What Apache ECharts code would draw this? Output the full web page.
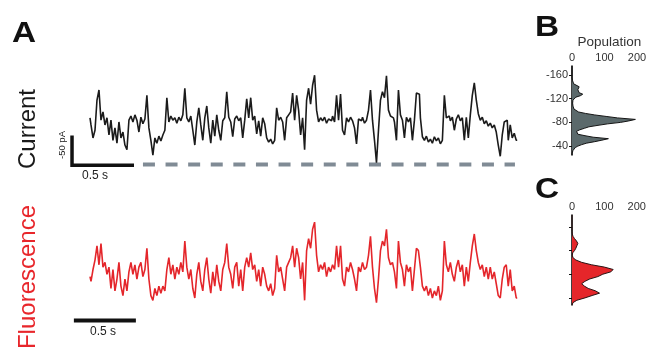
<!DOCTYPE html>
<html>
<head>
<meta charset="utf-8">
<title>Current and fluorescence traces</title>
<script src="https://cdn.jsdelivr.net/npm/echarts@6/dist/echarts.min.js"></script>
<style>
  html, body { margin: 0; padding: 0; background: #fff; }
  #chart { width: 653px; height: 349px; }
</style>
</head>
<body>
<div id="chart"></div>
<script>
// sample interval of both traces, seconds
const DT = 0.0161;

// current trace, pA
const currentPA = [
  -86, -74, -52, -65, -116, -133, -82, -96, -74, -86,
  -57, -82, -48, -69, -43, -79, -52, -62, -40, -32,
  -82, -89, -79, -91, -82, -62, -87, -76, -84, -124,
  -69, -48, -23, -52, -43, -55, -47, -57, -65, -120,
  -79, -89, -82, -86, -77, -87, -81, -91, -136, -86,
  -79, -89, -65, -40, -79, -103, -74, -48, -86, -106,
  -69, -43, -82, -55, -91, -65, -48, -81, -86, -130,
  -87, -79, -54, -84, -89, -81, -86, -52, -82, -118,
  -86, -120, -82, -89, -59, -81, -55, -86, -76, -52,
  -45, -50, -42, -48, -103, -82, -87, -79, -48, -86,
  -91, -96, -128, -82, -124, -99, -57, -86, -32, -116,
  -136, -109, -141, -158, -99, -79, -86, -81, -87, -77,
  -84, -81, -89, -79, -124, -82, -126, -65, -57, -86,
  -79, -87, -81, -69, -42, -84, -81, -87, -77, -82,
  -99, -133, -82, -48, -10, -65, -116, -130, -120, -157,
  -99, -89, -86, -79, -48, -133, -91, -82, -52, -87,
  -79, -86, -48, -82, -128, -126, -86, -54, -48, -55,
  -45, -50, -43, -54, -47, -52, -42, -48, -124, -86,
  -89, -81, -87, -65, -84, -91, -81, -86, -48, -87,
  -52, -91, -124, -145, -116, -93, -82, -87, -76, -81,
  -72, -77, -69, -74, -62, -40, -21, -57, -79, -82,
  -48, -74, -52, -60, -48
];

// fluorescence trace, arbitrary units
const fluorescence = [
  1.9, 1.7, 2.2, 2.6, 3.2, 2.4, 3.3, 2.3, 2.5, 2.0,
  2.3, 1.4, 2.2, 1.3, 1.8, 2.5, 1.5, 1.1, 1.8, 1.3,
  2.1, 2.5, 2.0, 2.4, 1.8, 2.3, 2.5, 1.9, 2.2, 3.1,
  1.8, 1.1, 0.9, 1.4, 1.1, 1.5, 1.2, 1.5, 1.3, 2.2,
  2.7, 2.0, 2.4, 1.8, 2.3, 2.0, 2.5, 2.1, 3.4, 2.3,
  1.8, 2.2, 1.4, 1.0, 2.0, 2.5, 1.7, 1.3, 2.2, 2.7,
  1.8, 1.2, 2.1, 1.5, 2.4, 1.7, 1.3, 2.2, 2.5, 3.3,
  2.3, 2.0, 1.4, 2.3, 2.5, 1.5, 2.2, 1.3, 2.3, 2.7,
  2.3, 2.9, 2.2, 2.4, 1.7, 2.2, 1.5, 2.3, 2.0, 1.5,
  1.3, 1.6, 1.1, 1.4, 2.8, 2.1, 2.3, 1.8, 1.3, 2.3,
  2.5, 2.7, 3.2, 2.3, 3.1, 2.7, 1.8, 2.5, 0.9, 3.0,
  3.5, 3.1, 3.9, 4.2, 2.8, 2.1, 2.4, 2.2, 2.5, 1.9,
  2.3, 2.1, 2.4, 2.2, 3.2, 2.3, 3.2, 1.8, 1.5, 2.3,
  2.1, 2.5, 2.2, 1.8, 1.3, 2.3, 2.1, 2.5, 2.2, 2.3,
  2.8, 3.6, 2.3, 1.4, 0.8, 1.8, 3.0, 3.4, 3.2, 3.9,
  2.7, 2.4, 2.5, 2.1, 1.4, 3.4, 2.5, 2.2, 1.5, 2.4,
  2.1, 2.3, 1.3, 2.2, 3.1, 3.0, 2.3, 1.5, 1.3, 1.5,
  1.1, 1.4, 1.0, 1.3, 1.1, 1.5, 0.9, 1.3, 3.4, 2.4,
  2.1, 2.5, 2.0, 1.7, 2.3, 2.6, 2.1, 2.4, 1.5, 2.3,
  1.7, 2.5, 3.2, 3.7, 3.0, 2.5, 2.2, 2.4, 1.9, 2.3,
  1.8, 2.3, 1.8, 2.1, 1.6, 1.1, 1.0, 1.8, 2.3, 2.4,
  1.5, 2.2, 1.3, 1.5, 1.0
];

// histogram B: current bins (pA) and population
const binsB = [
  -175, -172.5, -170, -167.5, -165, -162.5, -160, -157.5, -155, -152.5,
  -150, -147.5, -145, -142.5, -140, -137.5, -135, -132.5, -130, -127.5,
  -125, -122.5, -120, -117.5, -115, -112.5, -110, -107.5, -105, -102.5,
  -100, -97.5, -95, -92.5, -90, -87.5, -85, -82.5, -80, -77.5,
  -75, -72.5, -70, -67.5, -65, -62.5, -60, -57.5, -55, -52.5,
  -50, -47.5, -45, -42.5, -40, -37.5, -35, -32.5, -30, -27.5,
  -25
];
const countsB = [
  0, 0, 0, 0, 0, 0, 0, 1, 0, 1,
  2, 3, 5, 10, 22, 28, 18, 14, 22, 33,
  26, 12, 6, 3, 2, 2, 3, 3, 4, 6,
  10, 20, 42, 70, 105, 140, 195, 175, 150, 110,
  80, 52, 38, 24, 14, 10, 18, 40, 65, 112,
  92, 70, 45, 30, 18, 10, 6, 3, 1, 0,
  0
];

// histogram C: fluorescence bins and population
const binsC = [
  0.7, 0.8, 0.9, 1.0, 1.1, 1.2, 1.3, 1.4, 1.5, 1.6,
  1.7, 1.8, 1.9, 2.0, 2.1, 2.2, 2.3, 2.4, 2.5, 2.6,
  2.7, 2.8, 2.9, 3.0, 3.1, 3.2, 3.3, 3.4, 3.5, 3.6,
  3.7, 3.8, 3.9, 4.0, 4.1, 4.2, 4.3, 4.4, 4.5
];
const countsC = [
  0, 3, 15, 40, 62, 85, 72, 50, 38, 30,
  40, 55, 80, 95, 120, 127, 100, 60, 30, 12,
  3, 1, 2, 8, 12, 15, 18, 14, 8, 3,
  1, 0, 0, 0, 0, 0, 0, 0, 0
];

const ticksB = [-160, -120, -80, -40];
const ticksC = [1, 2, 3, 4];
const popTicks = [0, 100, 200];

// scale bars and closed level
const barCurrent = [[-0.145, -56], [-0.145, -6], [0.355, -6]];
const barFluor = [[-0.13, 0.05], [0.37, 0.05]];
const closedLevel = [[0.427, -7], [3.427, -7]];

const FONT = "'Liberation Sans', Arial, sans-serif";

const currentData = currentPA.map((v, i) => [i * DT, v]);
const fluorData = fluorescence.map((v, i) => [i * DT, v]);

const chart = echarts.init(document.getElementById("chart"));

const histXAxis = (grid, max, name) => ({
  gridIndex: grid,
  type: "value",
  position: "top",
  min: 0,
  max: max,
  name: name,
  nameLocation: "middle",
  nameGap: 17,
  nameTextStyle: { fontFamily: FONT, fontSize: 13.5, color: "#333" },
  axisLine: { onZero: false, lineStyle: { color: "#111", width: 1.6 } },
  axisTick: { customValues: popTicks, length: 3, lineStyle: { color: "#111" } },
  axisLabel: {
    customValues: popTicks,
    margin: 3,
    fontFamily: FONT,
    fontSize: 11,
    color: "#333"
  },
  splitLine: { show: false }
});

// big bold panel letters
const panelLetter = (txt, x, y) => ({
  type: "text", x: x, y: y, scaleX: 1.15,
  style: {
    text: txt, font: "bold 29px " + FONT, fill: "#111",
    textVerticalAlign: "middle"
  }
});

const option = {
  animation: false,
  grid: [
    { left: 65.2, top: 62.2, width: 458.8, height: 106.5 },
    { left: 65.2, top: 203.2, width: 458.8, height: 123.2 },
    { left: 572, top: 66, width: 74.75, height: 89 },
    { left: 572, top: 215, width: 81.25, height: 90 }
  ],
  xAxis: [
    { gridIndex: 0, type: "value", min: -0.2, max: 3.5, show: false },
    { gridIndex: 1, type: "value", min: -0.2, max: 3.5, show: false },
    histXAxis(2, 230, "Population"),
    histXAxis(3, 250, "")
  ],
  yAxis: [
    { gridIndex: 0, type: "value", inverse: true, min: -180, max: 0, show: false },
    { gridIndex: 1, type: "value", min: -0.2, max: 5, show: false },
    {
      gridIndex: 2,
      type: "category",
      inverse: true,
      boundaryGap: false,
      data: binsB.map(String),
      axisLine: { lineStyle: { color: "#111", width: 1.6 } },
      axisTick: {
        interval: (i, v) => ticksB.includes(Number(v)),
        length: 3,
        lineStyle: { color: "#111" }
      },
      axisLabel: {
        interval: (i, v) => ticksB.includes(Number(v)),
        margin: 4,
        fontFamily: FONT,
        fontSize: 11,
        color: "#333"
      },
      splitLine: { show: false }
    },
    {
      gridIndex: 3,
      type: "category",
      boundaryGap: false,
      data: binsC.map(String),
      axisLine: { lineStyle: { color: "#111", width: 1.6 } },
      axisTick: {
        interval: (i, v) => ticksC.includes(Number(v)),
        length: 3,
        lineStyle: { color: "#111" }
      },
      axisLabel: { show: false },
      splitLine: { show: false }
    }
  ],
  series: [
    {
      type: "line",
      xAxisIndex: 0,
      yAxisIndex: 0,
      data: closedLevel,
      symbol: "none",
      silent: true,
      lineStyle: { color: "#808b95", width: 4, type: [12, 10.6], cap: "butt" }
    },
    {
      type: "line",
      xAxisIndex: 0,
      yAxisIndex: 0,
      data: currentData,
      step: "middle",
      symbol: "none",
      silent: true,
      lineStyle: { color: "#1b1b1b", width: 1.6 }
    },
    {
      type: "line",
      xAxisIndex: 0,
      yAxisIndex: 0,
      data: barCurrent,
      symbol: "none",
      silent: true,
      lineStyle: { color: "#111", width: 3.5, join: "miter", cap: "butt" }
    },
    {
      type: "line",
      xAxisIndex: 1,
      yAxisIndex: 1,
      data: fluorData,
      step: "middle",
      symbol: "none",
      silent: true,
      lineStyle: { color: "#e4262b", width: 1.6 }
    },
    {
      type: "line",
      xAxisIndex: 1,
      yAxisIndex: 1,
      data: barFluor,
      symbol: "none",
      silent: true,
      lineStyle: { color: "#111", width: 4, cap: "butt" }
    },
    {
      type: "line",
      xAxisIndex: 2,
      yAxisIndex: 2,
      data: countsB,
      symbol: "none",
      silent: true,
      lineStyle: { color: "#151515", width: 1 },
      areaStyle: { color: "#5b696b", opacity: 1 }
    },
    {
      type: "line",
      xAxisIndex: 3,
      yAxisIndex: 3,
      data: countsC,
      symbol: "none",
      silent: true,
      lineStyle: { color: "#2a1515", width: 1 },
      areaStyle: { color: "#e5262a", opacity: 1 }
    }
  ],
  graphic: [
    panelLetter("A", 12, 34),
    panelLetter("B", 535, 28),
    panelLetter("C", 535, 190),
    {
      type: "text", x: 28, y: 129, rotation: Math.PI / 2,
      style: { text: "Current", font: "24px " + FONT, fill: "#1a1a1a", textAlign: "center", textVerticalAlign: "middle" }
    },
    {
      type: "text", x: 28, y: 277, rotation: Math.PI / 2,
      style: { text: "Fluorescence", font: "24px " + FONT, fill: "#e8262b", textAlign: "center", textVerticalAlign: "middle" }
    },
    {
      type: "text", x: 62, y: 145, rotation: Math.PI / 2,
      style: { text: "-50 pA", font: "9.5px " + FONT, fill: "#222", textAlign: "center", textVerticalAlign: "middle" }
    },
    {
      type: "text", x: 95, y: 176,
      style: { text: "0.5 s", font: "12px " + FONT, fill: "#222", textAlign: "center", textVerticalAlign: "middle" }
    },
    {
      type: "text", x: 103, y: 332,
      style: { text: "0.5 s", font: "12px " + FONT, fill: "#222", textAlign: "center", textVerticalAlign: "middle" }
    }
  ]
};

chart.setOption(option);
</script>
</body>
</html>
